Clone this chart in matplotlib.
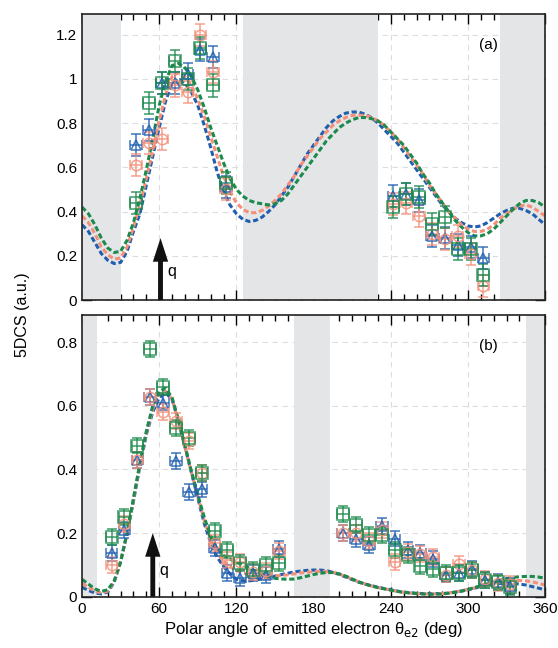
import matplotlib
matplotlib.use("Agg")
import matplotlib.pyplot as plt
import numpy as np
from matplotlib.ticker import MultipleLocator, FuncFormatter

plt.rcParams['font.family'] = ['Liberation Sans', 'DejaVu Sans']

# theory curves, sampled every 5 deg
theta = list(range(0, 361, 5))

top_blue = [0.34, 0.31, 0.26, 0.21, 0.18, 0.165, 0.17, 0.22, 0.31, 0.39, 0.52, 0.65, 0.78, 0.90, 0.98,
            1.00, 0.98, 0.94, 0.88, 0.79, 0.69, 0.58, 0.49, 0.43, 0.39, 0.365, 0.355, 0.36, 0.375, 0.40,
            0.43, 0.47, 0.51, 0.56, 0.61, 0.66, 0.70, 0.74, 0.78, 0.81, 0.83, 0.845, 0.85, 0.85, 0.84,
            0.825, 0.80, 0.77, 0.74, 0.71, 0.67, 0.63, 0.59, 0.55, 0.51, 0.47, 0.43, 0.40, 0.37, 0.35,
            0.335, 0.33, 0.335, 0.35, 0.37, 0.39, 0.405, 0.415, 0.415, 0.405, 0.39, 0.365, 0.34]
top_salmon = [0.38, 0.35, 0.30, 0.24, 0.205, 0.185, 0.19, 0.24, 0.33, 0.43, 0.55, 0.68, 0.81, 0.93, 1.01,
              1.03, 1.01, 0.97, 0.91, 0.83, 0.74, 0.65, 0.56, 0.49, 0.44, 0.41, 0.395, 0.395, 0.405, 0.425,
              0.45, 0.48, 0.52, 0.56, 0.61, 0.65, 0.69, 0.73, 0.76, 0.79, 0.81, 0.825, 0.835, 0.835, 0.835,
              0.825, 0.81, 0.79, 0.76, 0.73, 0.69, 0.65, 0.61, 0.57, 0.52, 0.48, 0.44, 0.40, 0.37, 0.34,
              0.32, 0.31, 0.31, 0.32, 0.34, 0.37, 0.39, 0.41, 0.425, 0.43, 0.42, 0.40, 0.38]
top_green = [0.42, 0.39, 0.34, 0.28, 0.235, 0.215, 0.22, 0.27, 0.35, 0.46, 0.59, 0.73, 0.88, 0.99, 1.06,
             1.07, 1.05, 1.01, 0.95, 0.87, 0.78, 0.70, 0.62, 0.55, 0.50, 0.47, 0.45, 0.44, 0.435, 0.43,
             0.435, 0.45, 0.48, 0.52, 0.56, 0.60, 0.64, 0.68, 0.72, 0.75, 0.78, 0.80, 0.815, 0.825, 0.825,
             0.82, 0.81, 0.79, 0.76, 0.73, 0.70, 0.66, 0.62, 0.57, 0.53, 0.48, 0.44, 0.40, 0.36, 0.33,
             0.305, 0.29, 0.29, 0.30, 0.32, 0.35, 0.38, 0.41, 0.435, 0.45, 0.45, 0.44, 0.42]

bot_blue = [0.03, 0.02, 0.012, 0.009, 0.015, 0.045, 0.11, 0.20, 0.30, 0.41, 0.51, 0.58, 0.625, 0.64, 0.62,
            0.55, 0.47, 0.39, 0.31, 0.23, 0.17, 0.125, 0.095, 0.072, 0.055, 0.05, 0.05, 0.053, 0.056, 0.06,
            0.065, 0.07, 0.074, 0.078, 0.081, 0.083, 0.084, 0.084, 0.082, 0.077, 0.07, 0.062, 0.054, 0.046,
            0.04, 0.035, 0.03, 0.026, 0.022, 0.018, 0.015, 0.013, 0.011, 0.01, 0.01, 0.01, 0.01, 0.012,
            0.015, 0.018, 0.022, 0.027, 0.032, 0.036, 0.04, 0.042, 0.043, 0.042, 0.04, 0.037, 0.032, 0.027, 0.022]
bot_salmon = [0.042, 0.03, 0.018, 0.012, 0.018, 0.047, 0.11, 0.20, 0.305, 0.415, 0.515, 0.59, 0.635, 0.645,
              0.62, 0.55, 0.47, 0.39, 0.315, 0.24, 0.18, 0.138, 0.112, 0.095, 0.082, 0.075, 0.07, 0.067,
              0.065, 0.065, 0.066, 0.067, 0.069, 0.072, 0.075, 0.077, 0.079, 0.08, 0.079, 0.077, 0.071,
              0.064, 0.055, 0.047, 0.04, 0.034, 0.029, 0.025, 0.021, 0.017, 0.014, 0.012, 0.01, 0.009,
              0.009, 0.009, 0.01, 0.012, 0.015, 0.019, 0.023, 0.028, 0.033, 0.038, 0.042, 0.046, 0.049,
              0.051, 0.051, 0.05, 0.047, 0.042, 0.037]
bot_green = [0.055, 0.04, 0.025, 0.017, 0.022, 0.05, 0.11, 0.20, 0.31, 0.42, 0.52, 0.60, 0.645, 0.655,
             0.625, 0.555, 0.475, 0.395, 0.32, 0.25, 0.19, 0.15, 0.13, 0.118, 0.108, 0.10, 0.09, 0.08,
             0.07, 0.063, 0.058, 0.056, 0.055, 0.056, 0.06, 0.065, 0.07, 0.074, 0.076, 0.076, 0.072,
             0.065, 0.056, 0.047, 0.04, 0.034, 0.029, 0.025, 0.021, 0.017, 0.014, 0.012, 0.01, 0.009,
             0.008, 0.008, 0.009, 0.011, 0.014, 0.018, 0.023, 0.029, 0.035, 0.041, 0.047, 0.052, 0.057,
             0.061, 0.063, 0.064, 0.064, 0.062, 0.058]

# measured points
top_ang = [42, 52, 62, 72, 82, 92, 102, 112, 242, 252, 262, 272, 282, 292, 302, 312]
top_pts_blue = [0.70, 0.77, 0.98, 0.98, 1.02, 1.13, 1.10, 0.51, 0.47, 0.48, 0.45, 0.29, 0.28, 0.25, 0.24, 0.19]
top_pts_salmon = [0.61, 0.71, 0.73, 0.97, 0.94, 1.20, 1.03, 0.50, 0.435, 0.44, 0.38, 0.30, 0.275, 0.29, 0.21, 0.065]
top_pts_green = [0.44, 0.89, 0.98, 1.08, 1.00, 1.14, 0.97, 0.53, 0.42, 0.48, 0.465, 0.345, 0.375, 0.23, 0.23, 0.115]

bot_ang = [23, 33, 43, 53, 63, 73, 83, 93, 103, 113, 123, 133, 143, 153,
           203, 213, 223, 233, 243, 253, 263, 273, 283, 293, 303, 313, 323, 333]
bot_pts_blue = [0.138, 0.21, 0.43, 0.626, 0.61, 0.426, 0.33, 0.337, 0.152, 0.076, 0.06, 0.075, 0.069, 0.149,
                0.20, 0.18, 0.163, 0.222, 0.183, 0.147, 0.139, 0.12, 0.07, 0.074, 0.086, 0.053, 0.048, 0.035]
bot_pts_salmon = [0.10, 0.23, 0.43, 0.626, 0.58, 0.553, 0.49, 0.39, 0.168, 0.116, 0.11, 0.077, 0.08, 0.145,
                  0.20, 0.20, 0.175, 0.21, 0.11, 0.14, 0.135, 0.126, 0.07, 0.103, 0.085, 0.056, 0.044, 0.04]
bot_pts_green = [0.188, 0.25, 0.475, 0.777, 0.66, 0.53, 0.50, 0.39, 0.206, 0.147, 0.105, 0.084, 0.10, 0.105,
                 0.26, 0.225, 0.194, 0.194, 0.147, 0.13, 0.097, 0.086, 0.074, 0.074, 0.085, 0.053, 0.045, 0.03]

top_bands = [(0, 30), (125, 230), (325, 360)]
bot_bands = [(0, 12), (165, 193), (345, 360)]

BLUE = '#1f5fae'
SALMON = '#f4907a'
GREEN = '#1b8a4c'
BAND = '#e4e5e7'

fig = plt.figure(figsize=(5.58, 6.48), dpi=100)
ax1 = fig.add_axes([0.147, 0.537, 0.83, 0.442])
ax2 = fig.add_axes([0.147, 0.079, 0.83, 0.435])


def draw_panel(ax, bands, curves, ang, pts, yerr, ylim, yticks, arrow_x, arrow_top, q_pos, tag):
    for a, b in bands:
        ax.axvspan(a, b, color=BAND, lw=0, zorder=1)
    ax.set_axisbelow(True)
    ax.grid(True, color='#dddddd', ls=(0, (5, 4)), lw=0.8)
    for y, c in curves:
        ax.plot(theta, y, color=c, lw=2.2, dashes=(1.7, 0.9), zorder=2)
    for y, c, m in pts:
        ms = 8 if m == 's' else 7.5
        ax.errorbar(ang, y, yerr=yerr, xerr=4.5, fmt=m, ms=ms, mfc='none', mec=c, mew=1.1,
                    ecolor=c, elinewidth=1.1, capsize=3.5, capthick=1.1, alpha=0.85, zorder=3)
    ax.annotate('', xy=(arrow_x, arrow_top), xytext=(arrow_x, 0),
                arrowprops=dict(facecolor='#111111', edgecolor='none', width=3.5, headwidth=11,
                                headlength=17), zorder=4)
    ax.text(q_pos[0], q_pos[1], 'q', fontsize=11.5, ha='left', va='center')
    ax.text(0.877, 0.89, tag, transform=ax.transAxes, fontsize=11, ha='center', va='center')
    ax.set_xlim(0, 360)
    ax.set_ylim(*ylim)
    ax.set_yticks(yticks)
    ax.yaxis.set_major_formatter(FuncFormatter(lambda v, p: '%g' % round(v, 2)))
    ax.xaxis.set_major_locator(MultipleLocator(60))
    ax.xaxis.set_minor_locator(MultipleLocator(10))
    ax.tick_params(which='both', direction='in', top=True, right=True, labelsize=11)
    ax.tick_params(which='major', length=7, width=1)
    ax.tick_params(which='minor', length=4, width=1)
    for s in ax.spines.values():
        s.set_linewidth(1.2)
        s.set_color('#222222')


draw_panel(ax1, top_bands,
           [(top_blue, BLUE), (top_salmon, SALMON), (top_green, GREEN)],
           top_ang,
           [(top_pts_blue, BLUE, '^'), (top_pts_salmon, SALMON, 'o'), (top_pts_green, GREEN, 's')],
           0.05, (0, 1.295), [0, 0.2, 0.4, 0.6, 0.8, 1.0, 1.2], 61, 0.28, (66, 0.13), '(a)')
draw_panel(ax2, bot_bands,
           [(bot_blue, BLUE), (bot_salmon, SALMON), (bot_green, GREEN)],
           bot_ang,
           [(bot_pts_blue, BLUE, '^'), (bot_pts_salmon, SALMON, 'o'), (bot_pts_green, GREEN, 's')],
           0.025, (0, 0.885), [0, 0.2, 0.4, 0.6, 0.8], 55, 0.2, (60, 0.083), '(b)')

ax1.tick_params(labelbottom=False)
ax2.set_xlabel('Polar angle of emitted electron θ$_{\\mathrm{e2}}$ (deg)', fontsize=12, labelpad=3)
fig.text(0.04, 0.514, '5DCS (a.u.)', rotation=90, fontsize=11.5, ha='center', va='center')

fig.savefig('out.png', dpi=100)
